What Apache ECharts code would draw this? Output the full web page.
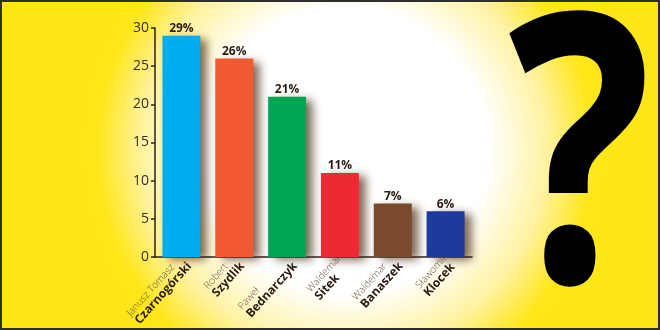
<!DOCTYPE html>
<html>
<head>
<meta charset="utf-8">
<script src="https://cdn.jsdelivr.net/npm/echarts@6/dist/echarts.min.js"></script>
<style>html,body{margin:0;padding:0;}#c{width:660px;height:330px;}</style>
</head>
<body>
<div id="c"></div>
<script>
const firstNames = ['Janusz Tomasz', 'Robert', 'Paweł', 'Waldemar', 'Waldemar', 'Sławomir'];
const lastNames = ['Czarnogórski', 'Szydlik', 'Bednarczyk', 'Sitek', 'Banaszek', 'Klocek'];
const values = [29, 26, 21, 11, 7, 6];
const barColors = ['#00aeef', '#f15a31', '#00a651', '#ed2a32', '#7a4a2c', '#1e3a9c'];
const yTicks = [0, 5, 10, 15, 20, 25, 30];

const chart = echarts.init(document.getElementById('c'));
const W = 660, H = 330;
chart.setOption({
  animation: false,
  graphic: [
    { type: 'rect', z: -10, silent: true, shape: { x: 0, y: 0, width: W, height: H },
      style: { fill: new echarts.graphic.RadialGradient(345, 150, 260, [
        { offset: 0, color: '#ffffff' },
        { offset: 0.55, color: '#ffffff' },
        { offset: 0.78, color: '#fff2a0' },
        { offset: 0.95, color: '#ffe71c' },
        { offset: 1, color: '#ffe617' }
      ], true) } },
    { type: 'text', z: 5, silent: true, x: 580, y: 175, scaleX: 0.8,
      style: { text: '?', font: 'bold 375px "Open Sans"', fill: '#000', align: 'center', verticalAlign: 'middle' } },
    { type: 'rect', z: 20, silent: true, shape: { x: 1, y: 1, width: W - 2, height: H - 2 },
      style: { fill: 'none', stroke: '#2e2e2e', lineWidth: 2 } }
  ],
  grid: { left: 155, right: 188, top: 28, bottom: 73, containLabel: false, outerBoundsMode: 'none' },
  xAxis: {
    type: 'category',
    data: lastNames,
    axisLine: { lineStyle: { color: '#2a2220', width: 1.5 } },
    axisTick: { show: false },
    axisLabel: {
      interval: 0, rotate: 48, margin: 8, padding: [0, -6, 0, 0],
      formatter: (v, i) => '{a|' + firstNames[i] + '}\n{b|' + lastNames[i] + '}',
      rich: {
        a: { fontFamily: 'Open Sans', fontSize: 10, fontWeight: 300, color: '#6b5040', align: 'left', lineHeight: 11 },
        b: { fontFamily: 'Open Sans', fontSize: 12, fontWeight: 'bold', color: '#2a1a10', align: 'left', lineHeight: 12 }
      }
    }
  },
  yAxis: {
    type: 'value', min: yTicks[0], max: yTicks[yTicks.length - 1], interval: 5,
    splitLine: { show: false },
    axisLine: { show: true, lineStyle: { color: '#2a2220', width: 1.5 } },
    axisTick: { show: true, length: 4, lineStyle: { color: '#2a2220', width: 1.5 } },
    axisLabel: { fontFamily: 'Open Sans', fontSize: 14, color: '#3a2a20', margin: 6 }
  },
  series: [{
    type: 'bar',
    data: values.map((v, i) => ({ value: v, itemStyle: { color: barColors[i] } })),
    barWidth: 38,
    itemStyle: { shadowBlur: 9, shadowOffsetX: 7, shadowOffsetY: 3, shadowColor: 'rgba(70,35,10,0.7)' },
    label: { show: true, position: 'top', distance: 1, formatter: '{c}%', fontFamily: 'Open Sans', fontWeight: 'bold', fontSize: 12, color: '#2a1a10' }
  }]
});
</script>
</body>
</html>
